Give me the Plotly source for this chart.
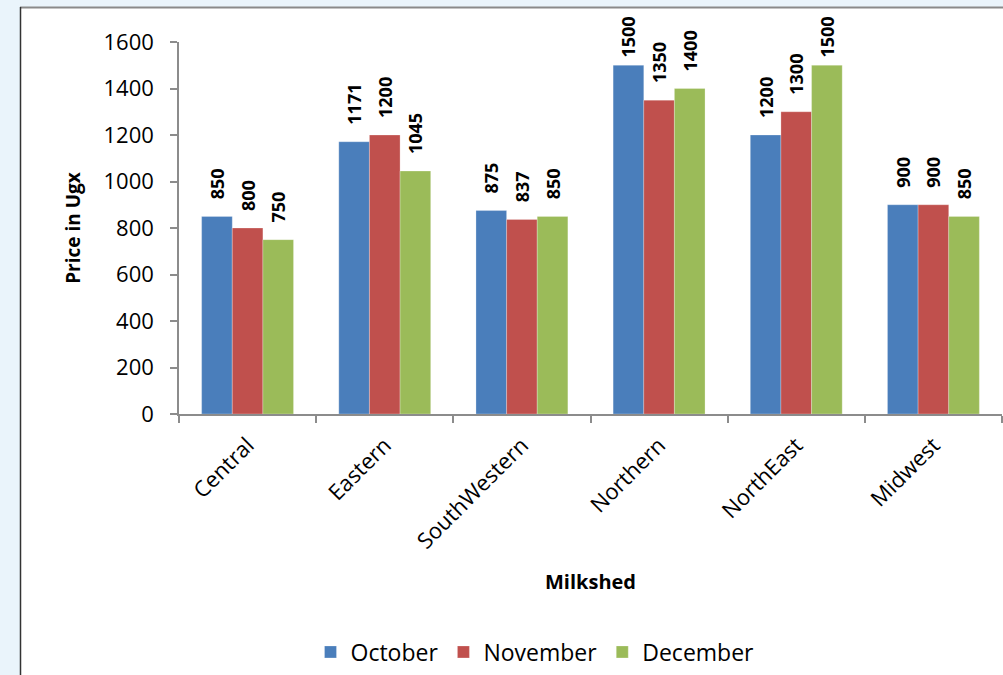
import plotly.graph_objects as go

categories = ["Central", "Eastern", "SouthWestern", "Northern", "NorthEast", "Midwest"]
october = [850, 1171, 875, 1500, 1200, 900]
november = [800, 1200, 837, 1350, 1300, 900]
december = [750, 1045, 850, 1400, 1500, 850]
series_names = ["October", "November", "December"]
colors = ["#4A7EBB", "#C0504D", "#9BBB59"]
y_ticks = [0, 200, 400, 600, 800, 1000, 1200, 1400, 1600]

FONT = "Open Sans, Lato, sans-serif"
Y_MAX = 1600


def label(v):
    # gap between bar top and label; labels near the top are pulled in to fit
    pad = "\u00a0" if v >= 0.9 * Y_MAX else "\u00a0\u00a0\u00a0"
    return pad + str(v)


fig = go.Figure()
for name, vals, col in zip(series_names, [october, november, december], colors):
    fig.add_trace(go.Bar(
        x=categories, y=vals, name=name,
        marker=dict(color=col, line=dict(color="rgba(255,255,255,0.5)", width=0.5)),
        text=[label(v) for v in vals], textposition="outside", textangle=-90,
        constraintext="none",
        textfont=dict(family=FONT, size=18, color="#000000", weight="bold"),
        cliponaxis=False,
    ))

L, R, T, B = 179, 1, 42, 261
W, H = 1003, 675
pw, ph = W - L - R, H - T - B

def px_x(px):
    return (px - L) / pw

def px_y(py):
    return (H - B - py) / ph

fig.update_layout(
    width=W, height=H,
    margin=dict(l=L, r=R, t=T, b=B),
    paper_bgcolor="#EAF4FB",
    plot_bgcolor="rgba(0,0,0,0)",
    barmode="group",
    bargap=0.33,
    bargroupgap=0,
    font=dict(family=FONT, color="#000000"),
    showlegend=True,
    legend=dict(orientation="h", x=px_x(535), xanchor="center", y=px_y(652), yanchor="middle",
                font=dict(size=23, family=FONT), traceorder="normal",
                bgcolor="rgba(0,0,0,0)"),
    shapes=[
        dict(type="rect", xref="paper", yref="paper", layer="below",
             x0=px_x(20), x1=px_x(1010), y0=px_y(680), y1=px_y(7),
             fillcolor="white", line=dict(width=0)),
        dict(type="line", xref="paper", yref="paper", layer="below",
             x0=px_x(20), x1=px_x(1010), y0=px_y(7.5), y1=px_y(7.5),
             line=dict(color="#8A8A8A", width=2)),
        dict(type="line", xref="paper", yref="paper", layer="below",
             x0=px_x(20.5), x1=px_x(20.5), y0=px_y(680), y1=px_y(7),
             line=dict(color="#333333", width=1.5)),
    ],
)

fig.update_yaxes(
    range=[0, Y_MAX], tickvals=y_ticks, showgrid=False, zeroline=False,
    showline=True, linecolor="#8C8C8C", linewidth=1.5,
    ticks="outside", ticklen=7, tickcolor="#8C8C8C", tickwidth=1.5,
    tickfont=dict(size=22, family=FONT), ticklabelstandoff=12,
    title=dict(text="<b>Price in Ugx</b>", font=dict(size=19, family=FONT), standoff=18),
)
fig.update_xaxes(
    showline=True, linecolor="#8C8C8C", linewidth=1.5,
    ticks="outside", ticklen=7, tickcolor="#8C8C8C", tickwidth=1.5,
    tickson="boundaries", tickangle=-45,
    tickfont=dict(size=22, family=FONT), ticklabelstandoff=8,
    title=dict(text="<b>Milkshed</b>", font=dict(size=20, family=FONT), standoff=22),
)

fig.write_html("out.html", config={"displayModeBar": False},
               post_script="document.body.style.margin='0';")
